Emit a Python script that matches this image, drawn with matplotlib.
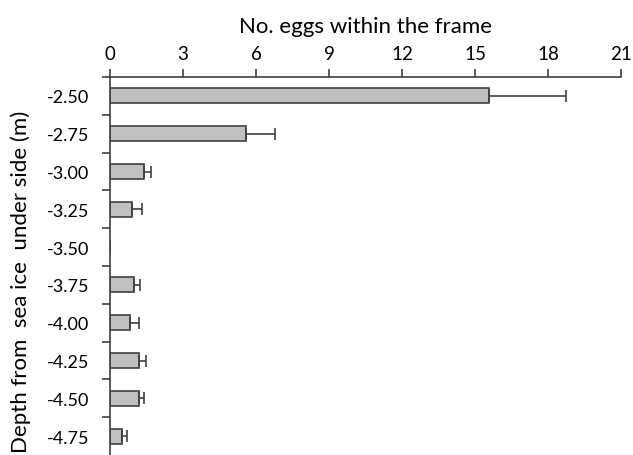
import numpy as np
import matplotlib.pyplot as plt

# donnees
depths = ['-2.50', '-2.75', '-3.00', '-3.25', '-3.50', '-3.75', '-4.00', '-4.25', '-4.50', '-4.75']
eggs = [15.56, 5.57, 1.41, 0.92, 0.0, 1.00, 0.83, 1.18, 1.18, 0.50]
err = [3.19, 1.23, 0.26, 0.41, 0.0, 0.24, 0.35, 0.29, 0.20, 0.21]

plt.rcParams['font.family'] = ['Lato', 'DejaVu Sans']

fig = plt.figure(figsize=(6.33, 4.56), dpi=100)
ax = fig.add_axes([110/633, 0, 511/633, 1 - 78/456])

y = np.arange(len(depths))
ax.barh(y, eggs, height=0.4, color='#c0c0c0', edgecolor='#404040', linewidth=1.2)
xerr = np.array([np.zeros(len(err)), err])
ax.errorbar(eggs, y, xerr=xerr, fmt='none', ecolor='#404040', elinewidth=1.2,
            capsize=4, capthick=1.2)

ax.set_xlim(0, 21)
ax.set_ylim(9.5, -0.5)
ax.set_xticks(np.arange(0, 22, 3))
ax.xaxis.tick_top()
ax.xaxis.set_label_position('top')
ax.set_xlabel('No. eggs within the frame', fontsize=16, labelpad=9)
ax.tick_params(axis='x', direction='out', length=6, width=1.2, color='#404040',
               labelsize=13.5, pad=5)

ax.set_yticks(y)
ax.set_yticklabels(depths)
ax.set_yticks(np.arange(-0.5, 9.5, 1), minor=True)
ax.tick_params(axis='y', which='major', length=0, labelsize=13, pad=15)
ax.tick_params(axis='y', which='minor', direction='out', length=6, width=1.2, color='#404040')
ax.set_ylabel('Depth from  sea ice  under side (m)', fontsize=16)
ax.yaxis.set_label_coords(-0.155, 0.46)

for s in ['right', 'bottom']:
    ax.spines[s].set_visible(False)
for s in ['left', 'top']:
    ax.spines[s].set_color('#404040')
    ax.spines[s].set_linewidth(1.2)

fig.savefig('out.png', dpi=100)
